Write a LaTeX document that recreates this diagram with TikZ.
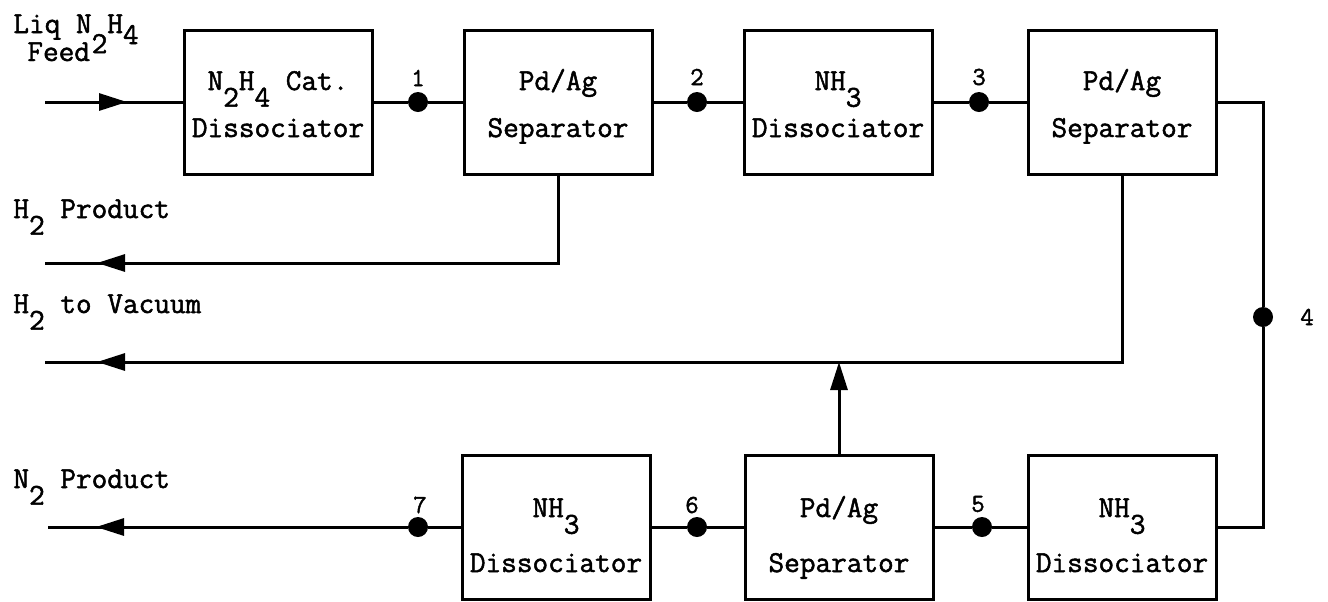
\documentclass[tikz,border=0pt]{standalone}
\usepackage{fontspec}
\newfontfamily\twfont{Latin Modern Mono}[FakeBold=1.6]
\usetikzlibrary{arrows.meta}
\newcommand{\dn}[2][0.55em]{\raisebox{-#1}{#2}}
\newcommand{\toprow}{\rule{0pt}{11.5pt}}
\newcommand{\botrow}{\rule{0pt}{17.5pt}}
\begin{document}
\begin{tikzpicture}[x=0.5pt,y=-0.5pt,
  txt/.style={font=\twfont\fontsize{15.2}{23}\selectfont, inner sep=0pt},
  blk/.style={draw, line width=1.5pt, minimum width=94pt, minimum height=72pt,
    align=center, inner sep=0pt, text depth=0pt, font=\twfont\fontsize{15.2}{23}\selectfont},
  wire/.style={line width=1.5pt},
  arr/.style={line width=1.5pt, -{Triangle[length=14pt,width=8.5pt]}},
  jdot/.style={circle, fill=black, inner sep=0pt, minimum size=10pt},
  num/.style={font=\twfont\fontsize{13}{14}\selectfont, inner sep=0pt}]
\useasboundingbox (0,0) rectangle (1328,601);

% top row blocks
\node[blk] (b1) at (278,102) {\toprow N\dn{2}H\dn{4} Cat.\\[0.5pt]Dissociator};
\node[blk] (b2) at (558,102) {\toprow Pd/Ag\\[0.5pt]Separator};
\node[blk] (b3) at (838,102) {\toprow NH\dn{3}\\[0.5pt]Dissociator};
\node[blk] (b4) at (1122,102) {\toprow Pd/Ag\\[0.5pt]Separator};
% bottom row blocks
\node[blk] (b7) at (556,527) {\botrow NH\dn{3}\\[4.5pt]Dissociator};
\node[blk] (b6) at (839,527) {\botrow Pd/Ag\\[4.5pt]Separator};
\node[blk] (b5) at (1122,527) {\botrow NH\dn{3}\\[4.5pt]Dissociator};

% junction dots
\node[jdot] (d1) at (418,102) {};
\node[jdot] (d2) at (697,102) {};
\node[jdot] (d3) at (979,102) {};
\node[jdot] (d4) at (1263,317) {};
\node[jdot] (d5) at (982,527) {};
\node[jdot] (d6) at (697,527) {};
\node[jdot] (d7) at (418,527) {};

% numbers
\node[num] (n1) at (418,78) {1};
\node[num] (n2) at (697,77) {2};
\node[num] (n3) at (979,77) {3};
\node[num] (n4) at (1307,317) {4};
\node[num] (n5) at (978,504) {5};
\node[num] (n6) at (692,505) {6};
\node[num] (n7) at (420,505) {7};

% left labels
\node[txt, anchor=base west] (lliq) at (13,33) {Liq N\dn[10pt]{2}H\dn[5.5pt]{4}};
\node[txt, anchor=base west] (lfeed) at (27,61) {Feed};
\node[txt, anchor=base west] (lh2p) at (13,218) {H\dn{2} Product};
\node[txt, anchor=base west] (lh2v) at (13,313) {H\dn{2} to Vacuum};
\node[txt, anchor=base west] (ln2p) at (13,488) {N\dn{2} Product};

% coordinates
\coordinate (feedS) at (45,102);
\coordinate (feedA) at (99,102);
\coordinate (feedT) at (127,102);
\coordinate (hpE) at (45,263);
\coordinate (hpA) at (125,263);
\coordinate (hpT) at (97,263);
\coordinate (hvE) at (45,362);
\coordinate (hvA) at (125,362);
\coordinate (hvT) at (97,362);
\coordinate (npE) at (48,527);
\coordinate (npA) at (124,527);
\coordinate (npT) at (96,527);

% feed
\draw[wire] (feedS) -- (b1.west);
\draw[arr] (feedA) -- (feedT);
% main top chain
\draw[wire] (b1.east) -- (d1) -- (b2.west);
\draw[wire] (b2.east) -- (d2) -- (b3.west);
\draw[wire] (b3.east) -- (d3) -- (b4.west);
% right loop
\draw[wire] (b4.east) -- (b4.east -| d4) -- (d4) -- (b5.east -| d4) -- (b5.east);
% bottom chain
\draw[wire] (b5.west) -- (d5) -- (b6.east);
\draw[wire] (b6.west) -- (d6) -- (b7.east);
\draw[wire] (b7.west) -- (d7) -- (npE);
\draw[arr] (npA) -- (npT);
% H2 product
\draw[wire] (b2.south) |- (hpE);
\draw[arr] (hpA) -- (hpT);
% H2 to vacuum
\draw[wire] (b4.south) |- (hvE);
\draw[arr] (hvA) -- (hvT);
\draw[arr] (b6.north) -- (b6.north |- hvE);
\end{tikzpicture}
\end{document}
